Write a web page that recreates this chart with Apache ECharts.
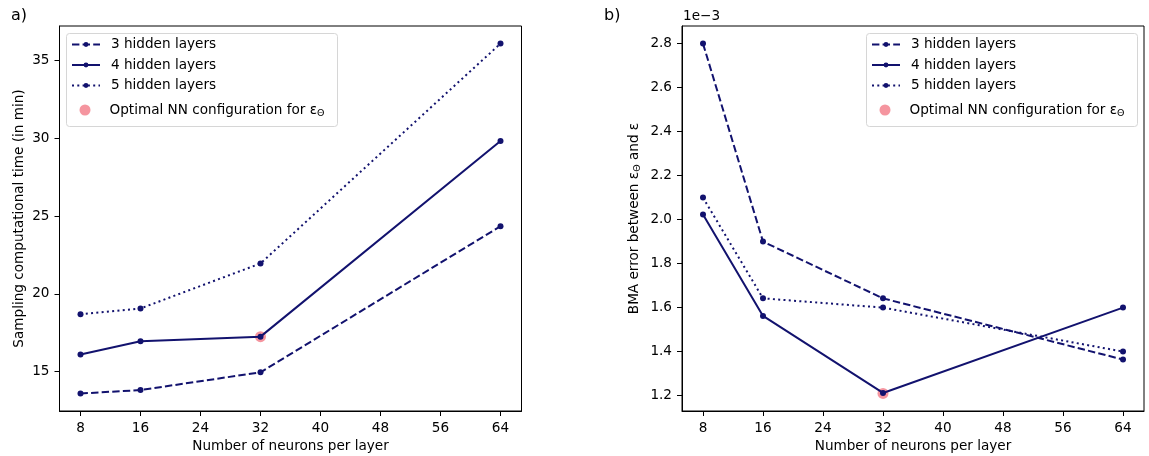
<!DOCTYPE html>
<html><head><meta charset="utf-8">
<script src="https://cdn.jsdelivr.net/npm/echarts@6/dist/echarts.min.js"></script>
<style>html,body{margin:0;padding:0;background:#fff}#c{width:1149px;height:456px}</style>
</head><body><div id="c"></div>
<script>
const neurons = [8, 16, 32, 64];
const xTicks = [8, 16, 24, 32, 40, 48, 56, 64];
// panel a: sampling computational time (min)
const timeL3 = [13.60, 13.82, 14.96, 24.34];
const timeL4 = [16.11, 16.95, 17.25, 29.81];
const timeL5 = [18.69, 19.06, 21.95, 36.07];
const timeOptimal = [[32, 17.25]];
const timeTicks = [15, 20, 25, 30, 35];
// panel b: BMA error (in units of 1e-3)
const errL3 = [2.80, 1.90, 1.642, 1.364];
const errL4 = [2.023, 1.562, 1.212, 1.60];
const errL5 = [2.10, 1.642, 1.60, 1.40];
const errOptimal = [[32, 1.21]];
const errTicks = [1.2, 1.4, 1.6, 1.8, 2.0, 2.2, 2.4, 2.6, 2.8];

const seriesNames = ['3 hidden layers', '4 hidden layers', '5 hidden layers', 'Optimal NN configuration for ε_Θ'];

const FONT = 'DejaVu Sans';
const FS = 13.6;
const NAVY = '#12126e';
const OPT = 'rgba(240,100,115,0.85)';

function pairs(ys) { return neurons.map((x, i) => [x, ys[i]]); }

function xAxis(gi) {
  return {
    type: 'value', gridIndex: gi, min: 5.2, max: 66.8,
    name: 'Number of neurons per layer', nameLocation: 'middle', nameGap: 27,
    nameTextStyle: {fontFamily: FONT, fontSize: FS, color: '#000'},
    axisLine: {show: true, onZero: false, lineStyle: {color: '#000', width: 1}},
    axisTick: {show: true, length: 5, customValues: xTicks, lineStyle: {color: '#000'}},
    axisLabel: {customValues: xTicks, fontFamily: FONT, fontSize: FS, color: '#000', margin: 10},
    splitLine: {show: false}
  };
}
function yAxis(gi, min, max, ticks, name, gap, fmt, rich) {
  return {
    type: 'value', gridIndex: gi, min: min, max: max,
    name: name, nameLocation: 'middle', nameGap: gap,
    nameTextStyle: {fontFamily: FONT, fontSize: FS, color: '#000', rich: rich},
    axisLine: {show: true, onZero: false, lineStyle: {color: '#000', width: 1}},
    axisTick: {show: true, length: 5, customValues: ticks, lineStyle: {color: '#000'}},
    axisLabel: {customValues: ticks, fontFamily: FONT, fontSize: FS, color: '#000', margin: 10, formatter: fmt},
    splitLine: {show: false}
  };
}
function lineSeries(name, data, gi, dash) {
  return {
    name: name, type: 'line', xAxisIndex: gi, yAxisIndex: gi, data: pairs(data),
    symbol: 'circle', symbolSize: 6, showSymbol: true, z: 3,
    itemStyle: {color: NAVY},
    lineStyle: {color: NAVY, width: 2, type: dash},
    emphasis: {disabled: true}, animation: false
  };
}
function optSeries(data, gi) {
  return {
    name: seriesNames[3], type: 'scatter', xAxisIndex: gi, yAxisIndex: gi, data: data,
    symbol: 'circle', symbolSize: 11, z: 2, itemStyle: {color: OPT}, animation: false
  };
}
const subRich = {
  base: {fontFamily: FONT, fontSize: FS, color: '#000'},
  sub: {fontFamily: FONT, fontSize: 9.5, color: '#000', verticalAlign: 'bottom', padding: [7, 0, 0, 0]}
};
function lineLegend(left) {
  return {
    orient: 'vertical', left: left, top: 36.5, padding: 0,
    data: seriesNames.slice(0, 3),
    itemWidth: 28, itemHeight: 6, itemGap: 4.5,
    textStyle: {fontFamily: FONT, fontSize: FS, color: '#000', lineHeight: 16, padding: [0, 0, 0, 6]},
    selectedMode: false, z: 5
  };
}
function optLegend(left) {
  return {
    orient: 'vertical', left: left, top: 101, padding: 0,
    data: [{name: seriesNames[3], icon: 'circle', itemStyle: {color: OPT}}],
    itemWidth: 11, itemHeight: 11,
    textStyle: {fontFamily: FONT, fontSize: FS, color: '#000', lineHeight: 18, padding: [0, 0, 0, 14], rich: subRich},
    formatter: () => '{base|Optimal NN configuration for ε}{sub|Θ}',
    selectedMode: false, z: 5
  };
}
const dashed = [7.4, 3.2];
const dotted = [2, 3.3];

function legendBox(x) {
  return {type: 'rect', left: x, top: 33, z: 4,
    shape: {width: 271, height: 93, r: 3},
    style: {fill: 'rgba(255,255,255,0.85)', stroke: '#d6d6d6', lineWidth: 1}};
}

const chart = echarts.init(document.getElementById('c'), null, {renderer: 'canvas'});
chart.setOption({
  animation: false,
  grid: [
    {left: 59.5, right: 627.5, top: 26, bottom: 45, outerBoundsMode: 'none', containLabel: false,
     show: true, borderColor: '#000', borderWidth: 1, backgroundColor: '#fff'},
    {left: 682, right: 5, top: 26, bottom: 45, outerBoundsMode: 'none', containLabel: false,
     show: true, borderColor: '#000', borderWidth: 1, backgroundColor: '#fff'}
  ],
  xAxis: [xAxis(0), xAxis(1)],
  yAxis: [
    yAxis(0, 12.475, 37.2, timeTicks, 'Sampling computational time (in min)', 33.5, v => String(v), {}),
    yAxis(1, 1.13, 2.88, errTicks, '{base|BMA error between ε}{sub|Θ}{base| and ε}', 39.5, v => v.toFixed(1), {
      base: {fontFamily: FONT, fontSize: FS, color: '#000'},
      sub: {fontFamily: FONT, fontSize: 9.5, color: '#000', verticalAlign: 'bottom', padding: [7, 0, 0, 0]}
    })
  ],
  legend: [lineLegend(71), optLegend(79.5), lineLegend(871), optLegend(879.5)],
  series: [
    lineSeries(seriesNames[0], timeL3, 0, dashed),
    lineSeries(seriesNames[1], timeL4, 0, 'solid'),
    lineSeries(seriesNames[2], timeL5, 0, dotted),
    optSeries(timeOptimal, 0),
    lineSeries(seriesNames[0], errL3, 1, dashed),
    lineSeries(seriesNames[1], errL4, 1, 'solid'),
    lineSeries(seriesNames[2], errL5, 1, dotted),
    optSeries(errOptimal, 1)
  ],
  graphic: [
    legendBox(66), legendBox(866),
    {type: 'text', left: 11, top: 8, style: {text: 'a)', font: '16px "DejaVu Sans"', fill: '#000'}},
    {type: 'text', left: 604, top: 8, style: {text: 'b)', font: '16px "DejaVu Sans"', fill: '#000'}},
    {type: 'text', left: 683, top: 9, style: {text: '1e−3', font: '13.6px "DejaVu Sans"', fill: '#000'}}
  ]
});
</script>
</body></html>
